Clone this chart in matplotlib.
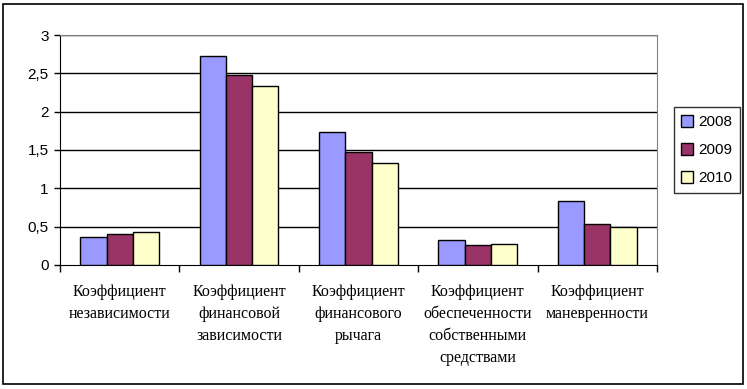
import matplotlib.pyplot as plt
import numpy as np
from matplotlib.patches import Rectangle

categories = ['Коэффициент\nнезависимости', 'Коэффициент\nфинансовой\nзависимости',
              'Коэффициент\nфинансового\nрычага', 'Коэффициент\nобеспеченности\nсобственными\nсредствами',
              'Коэффициент\nманевренности']
years = ['2008', '2009', '2010']
v2008 = [0.36, 2.72, 1.73, 0.32, 0.83]
v2009 = [0.40, 2.48, 1.47, 0.26, 0.53]
v2010 = [0.43, 2.34, 1.33, 0.27, 0.50]
colors = ['#9999FF', '#993366', '#FFFFCC']

fig = plt.figure(figsize=(7.47, 3.89), dpi=100)
ax = fig.add_axes([0.0803, 0.3188, 0.7992, 0.5912])
fig.patches.append(Rectangle((0.004, 0.013), 0.991, 0.978, transform=fig.transFigure,
                             fill=False, edgecolor='black', linewidth=1.2))

x = np.arange(len(categories))
w = 0.22
for i, (vals, c) in enumerate(zip([v2008, v2009, v2010], colors)):
    ax.bar(x + (i - 1) * w, vals, w, color=c, edgecolor='black', linewidth=1.0,
           label=years[i], zorder=3)

ax.set_xlim(-0.5, len(categories) - 0.5)
ax.set_ylim(0, 3)
ax.set_yticks(np.arange(0, 3.01, 0.5))
ax.set_yticklabels(['0', '0,5', '1', '1,5', '2', '2,5', '3'], fontsize=11,
                   family='Liberation Sans')
for y in np.arange(0.5, 3.01, 0.5):
    ax.axhline(y, color='black', linewidth=1.0, zorder=1)

ax.set_xticks(np.arange(-0.5, len(categories), 1.0))
ax.set_xticklabels([])
ax.tick_params(axis='x', direction='out', length=5, width=1)
ax.tick_params(axis='y', direction='out', length=4, width=1, pad=4)
for xi, lab in zip(x, categories):
    ax.text(xi, -0.25, lab, ha='center', va='top', fontsize=11.5, family='Liberation Serif',
            linespacing=1.49, transform=ax.transData)

ax.spines['left'].set_color('black')
ax.spines['bottom'].set_color('black')
ax.spines['top'].set_color('#808080')
ax.spines['right'].set_color('#808080')

leg = ax.legend(loc='center left', bbox_to_anchor=(1.015, 0.5), fontsize=11,
                frameon=True, fancybox=False, edgecolor='black', handlelength=0.8,
                handleheight=0.8, handletextpad=0.3, labelspacing=0.9, borderpad=0.5,
                prop={'family': 'Liberation Sans', 'size': 11})
leg.get_frame().set_linewidth(1.0)

fig.savefig('out.png', dpi=100)
